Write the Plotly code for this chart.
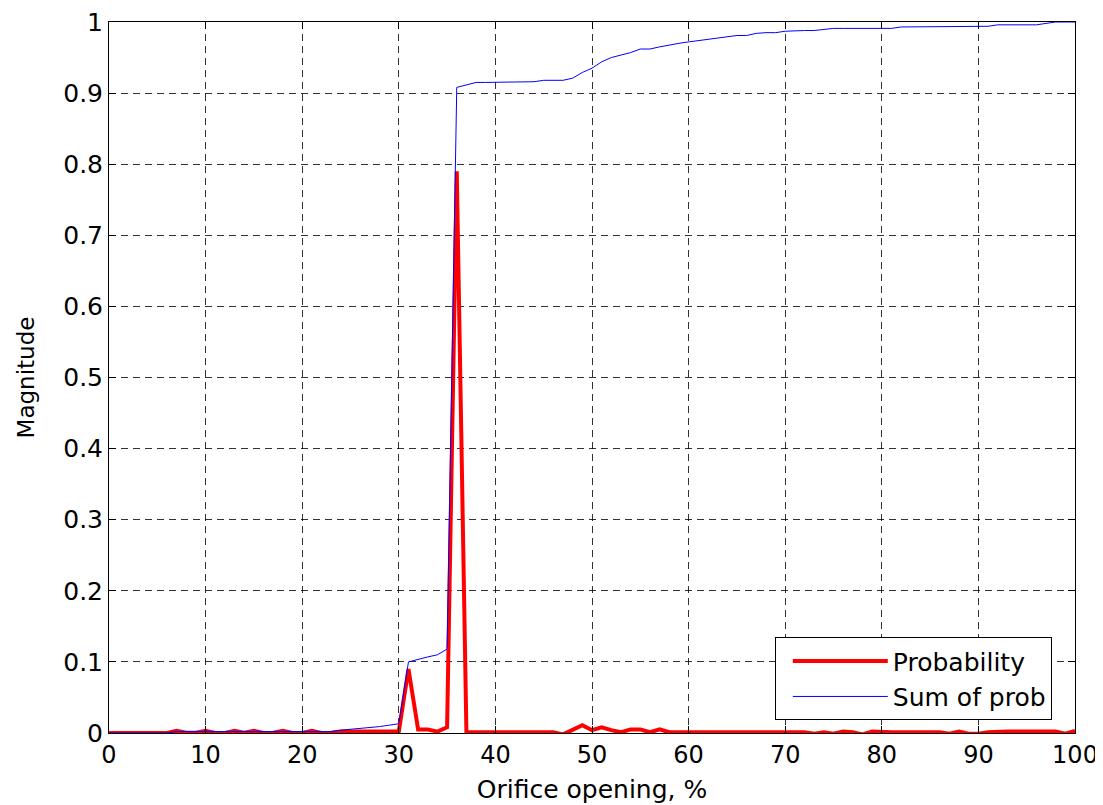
import plotly.graph_objects as go

opening = list(range(0, 101))

probability = [
    0, 0, 0, 0, 0, 0, 0, 0.003, 0.0005, 0.0005,           # 0-9
    0.003, 0, 0, 0.003, 0.0005, 0.003, 0, 0.0005, 0.003, 0,  # 10-19
    0, 0.003, 0, 0.0005, 0.002, 0.002, 0.002, 0.002, 0.002, 0.002,  # 20-29
    0.002, 0.09, 0.005, 0.005, 0.002, 0.008, 0.79, 0.001, 0.001, 0.001,  # 30-39
    0.001, 0.001, 0.001, 0.001, 0.001, 0.001, 0.001, -0.002, 0.005, 0.011,  # 40-49
    0.004, 0.008, 0.004, 0.001, 0.005, 0.005, 0.001, 0.005, 0.001, 0.001,  # 50-59
    0.001, 0.001, 0.001, 0.001, 0.001, 0.001, 0.001, 0.001, 0.001, 0.001,  # 60-69
    0.001, 0.001, 0.001, -0.001, 0.001, -0.001, 0.002, 0.001, -0.002, 0.002,  # 70-79
    0.001, 0.001, 0.001, 0.001, 0.001, 0.001, 0.001, -0.001, 0.002, -0.001,  # 80-89
    -0.001, 0.001, 0.002, 0.002, 0.002, 0.002, 0.002, 0.002, 0.002, -0.001,  # 90-99
    0.003,                                                   # 100
]

sum_of_prob = [
    0, 0, 0, 0, 0, 0, 0, 0.002, 0.002, 0.002,               # 0-9
    0.002, 0.002, 0.002, 0.002, 0.002, 0.002, 0.002, 0.002, 0.002, 0.002,  # 10-19
    0.002, 0.002, 0.002, 0.002, 0.004, 0.005, 0.007, 0.008, 0.009, 0.011,  # 20-29
    0.013, 0.100, 0.104, 0.107, 0.110, 0.118, 0.908, 0.912, 0.915, 0.915,  # 30-39
    0.915, 0.915, 0.915, 0.915, 0.916, 0.918, 0.918, 0.918, 0.921, 0.929,  # 40-49
    0.935, 0.944, 0.950, 0.953, 0.957, 0.962, 0.962, 0.965, 0.968, 0.970,  # 50-59
    0.972, 0.974, 0.976, 0.978, 0.979, 0.981, 0.981, 0.984, 0.985, 0.985,  # 60-69
    0.987, 0.988, 0.988, 0.988, 0.990, 0.991, 0.991, 0.991, 0.991, 0.991,  # 70-79
    0.991, 0.991, 0.993, 0.993, 0.993, 0.993, 0.993, 0.993, 0.993, 0.993,  # 80-89
    0.993, 0.994, 0.996, 0.996, 0.996, 0.996, 0.996, 0.998, 1.0, 1.0,       # 90-99
    1.0,                                                     # 100
]

x_ticks = list(range(0, 101, 10))
y_ticks = [round(i * 0.1, 1) for i in range(11)]
y_tick_text = ["0"] + [f"{v:.1f}" for v in y_ticks[1:-1]] + ["1"]

fig = go.Figure()
fig.add_trace(go.Scatter(
    x=opening, y=probability, mode="lines", name="Probability",
    line=dict(color="#ff0000", width=4),
))
fig.add_trace(go.Scatter(
    x=opening, y=sum_of_prob, mode="lines", name="Sum of prob",
    line=dict(color="#0000ff", width=1),
))

font = "DejaVu Sans, Arial, sans-serif"
axis_common = dict(
    showline=True, linecolor="black", linewidth=1, mirror="ticks",
    ticks="inside", ticklen=7, tickcolor="black",
    showgrid=True, gridcolor="rgba(0,0,0,0.8)", gridwidth=1, griddash="7px,5px",
    zeroline=False, ticklabeloverflow="allow", automargin=False,
)

fig.update_xaxes(
    range=[0, 100], tickvals=x_ticks,
    tickfont=dict(family=font, size=24, color="black"),
    title=dict(text="Orifice opening, %", font=dict(family=font, size=25, color="black"), standoff=12),
    **axis_common,
)
fig.update_yaxes(
    range=[0, 1], tickvals=y_ticks, ticktext=y_tick_text,
    tickfont=dict(family=font, size=25, color="black"),
    title=dict(text="Magnitude", font=dict(family=font, size=23, color="black"), standoff=22),
    **axis_common,
)

fig.update_layout(
    width=1103, height=805,
    margin=dict(l=101, r=36, t=14, b=80),
    paper_bgcolor="white", plot_bgcolor="white",
    showlegend=True,
    legend=dict(
        x=0.976, y=0.018, xanchor="right", yanchor="bottom",
        bgcolor="white", bordercolor="black", borderwidth=1,
        font=dict(family=font, size=25, color="black"),
        itemwidth=95, indentation=12, tracegroupgap=0,
    ),
)

fig.write_html("out.html")
